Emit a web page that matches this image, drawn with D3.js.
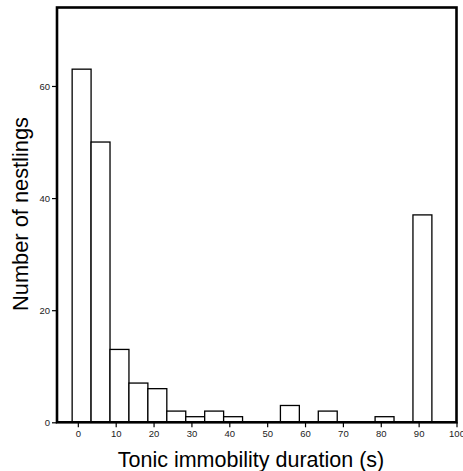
<!DOCTYPE html>
<html>
<head>
<meta charset="utf-8">
<script src="https://cdn.jsdelivr.net/npm/d3@7"></script>
<style>
  html, body { margin: 0; padding: 0; background: #fff; }
  svg { display: block; }
</style>
</head>
<body>
<svg id="chart" width="463" height="471"></svg>
<script>
// Data: histogram bins (bin midpoints, seconds) and counts
const binMids = [1, 6, 11, 16, 21, 26, 31, 36, 41, 46, 51, 56, 61, 66, 71, 76, 81, 86, 91];
const counts  = [63, 50, 13, 7, 6, 2, 1, 2, 1, 0, 0, 3, 0, 2, 0, 0, 1, 0, 37];
const binWidth = 5;
const xTicks = [0, 10, 20, 30, 40, 50, 60, 70, 80, 90, 100];
const yTicks = [0, 20, 40, 60];
const xTitle = "Tonic immobility duration (s)";
const yTitle = "Number of nestlings";

(function () {
const svg = d3.select("#chart");
const pLeft = 57, pRight = 456.5, pTop = 7.5, pBottom = 422.3;

const x = d3.scaleLinear().domain([-5.5, 100]).range([pLeft, pRight]);
const y = d3.scaleLinear().domain([0, 74]).range([pBottom, pTop]);

const bars = binMids.map((m, i) => ({ mid: m, n: counts[i] })).filter(d => d.n > 0);

svg.append("g")
  .selectAll("rect")
  .data(bars)
  .enter().append("rect")
  .attr("x", d => x(d.mid - binWidth / 2))
  .attr("width", d => x(d.mid + binWidth / 2) - x(d.mid - binWidth / 2))
  .attr("y", d => y(d.n))
  .attr("height", d => y(0) - y(d.n))
  .attr("fill", "#fff")
  .attr("stroke", "#000")
  .attr("stroke-width", 1.3);

const fontFam = "'Liberation Sans', Arial, sans-serif";

const gx = svg.append("g")
  .attr("transform", `translate(0,${pBottom})`)
  .call(d3.axisBottom(x).tickValues(xTicks).tickSize(5).tickPadding(3).tickFormat(d3.format("d")));
gx.select(".domain").remove();
gx.selectAll("line").attr("stroke", "#000").attr("stroke-width", 1.2);
gx.selectAll("text").attr("font-family", fontFam).attr("font-size", 9.5).attr("fill", "#222");

const gy = svg.append("g")
  .attr("transform", `translate(${pLeft},0)`)
  .call(d3.axisLeft(y).tickValues(yTicks).tickSize(5).tickPadding(2).tickFormat(d3.format("d")));
gy.select(".domain").remove();
gy.selectAll("line").attr("stroke", "#000").attr("stroke-width", 1.2);
gy.selectAll("text").attr("font-family", fontFam).attr("font-size", 9.5).attr("fill", "#222");

// frame
svg.append("rect")
  .attr("x", pLeft).attr("y", pTop)
  .attr("width", pRight - pLeft).attr("height", pBottom - pTop)
  .attr("fill", "none")
  .attr("stroke", "#000")
  .attr("stroke-width", 2.6);

svg.append("text")
  .attr("x", 251).attr("y", 466.5)
  .attr("text-anchor", "middle")
  .attr("font-family", fontFam)
  .attr("font-size", 21.5)
  .attr("fill", "#000")
  .text(xTitle);

svg.append("text")
  .attr("transform", "translate(27.5,214) rotate(-90)")
  .attr("text-anchor", "middle")
  .attr("font-family", fontFam)
  .attr("font-size", 21.8)
  .attr("fill", "#000")
  .text(yTitle);
})();
</script>
</body>
</html>
